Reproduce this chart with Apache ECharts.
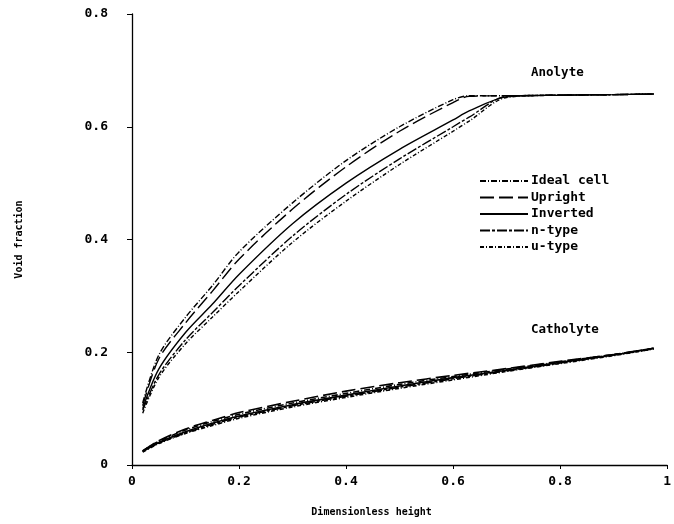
<!DOCTYPE html>
<html>
<head>
<meta charset="utf-8">
<script src="https://cdn.jsdelivr.net/npm/echarts@6/dist/echarts.min.js"></script>
<style>html,body{margin:0;padding:0;background:#fff}#c{width:674px;height:524px}</style>
</head>
<body>
<div id="c"></div>
<script>
// ---- data ----
const seriesNames = ['Ideal cell', 'Upright', 'Inverted', 'n-type', 'u-type'];
const xTicks = [0, 0.2, 0.4, 0.6, 0.8, 1];
const yTicks = [0, 0.2, 0.4, 0.6, 0.8];

// Anolyte
const anoX = [0.02, 0.05, 0.1, 0.15, 0.2, 0.3, 0.4, 0.5, 0.6, 0.63, 0.7, 0.8, 0.9, 0.975];
const anoIdeal    = [0.110, 0.195, 0.262, 0.318, 0.378, 0.465, 0.540, 0.600, 0.648, 0.655, 0.655, 0.656, 0.657, 0.658];
const anoUpright  = [0.105, 0.188, 0.252, 0.308, 0.365, 0.454, 0.529, 0.592, 0.643, 0.654, 0.655, 0.656, 0.657, 0.658];
const anoInverted = [0.100, 0.170, 0.235, 0.285, 0.338, 0.428, 0.500, 0.560, 0.612, 0.628, 0.653, 0.656, 0.657, 0.658];
const anoNtype    = [0.097, 0.160, 0.222, 0.270, 0.318, 0.406, 0.480, 0.543, 0.600, 0.617, 0.654, 0.656, 0.657, 0.658];
const anoUtype    = [0.092, 0.155, 0.215, 0.262, 0.308, 0.395, 0.468, 0.533, 0.592, 0.610, 0.652, 0.656, 0.657, 0.658];

// Catholyte
const catX = [0.02, 0.05, 0.1, 0.15, 0.2, 0.3, 0.4, 0.5, 0.6, 0.7, 0.8, 0.9, 0.975];
const catIdeal    = [0.025, 0.042, 0.062, 0.077, 0.090, 0.110, 0.127, 0.143, 0.157, 0.170, 0.183, 0.196, 0.207];
const catUpright  = [0.025, 0.043, 0.064, 0.079, 0.093, 0.113, 0.131, 0.146, 0.159, 0.171, 0.184, 0.196, 0.207];
const catInverted = [0.024, 0.040, 0.059, 0.074, 0.087, 0.107, 0.124, 0.140, 0.155, 0.168, 0.182, 0.195, 0.207];
const catNtype    = [0.024, 0.039, 0.057, 0.072, 0.085, 0.105, 0.122, 0.138, 0.153, 0.167, 0.181, 0.195, 0.206];
const catUtype    = [0.023, 0.038, 0.056, 0.070, 0.083, 0.103, 0.120, 0.136, 0.151, 0.166, 0.180, 0.194, 0.206];

// ---- build ----
const FONT = 'DejaVu Sans Mono';
const dashes = {
  'Ideal cell': [6, 2, 1, 2],
  'Upright': [14, 5],
  'Inverted': 'solid',
  'n-type': [10, 2, 3, 2],
  'u-type': [4, 2, 1, 2]
};
const anoData = [anoIdeal, anoUpright, anoInverted, anoNtype, anoUtype];
const catData = [catIdeal, catUpright, catInverted, catNtype, catUtype];
const zip = (xs, ys) => xs.map((x, i) => [x, ys[i]]);

const series = [];
seriesNames.forEach((n, i) => {
  series.push({
    name: n, type: 'line', symbol: 'none', showSymbol: false, smooth: 0.3,
    data: zip(anoX, anoData[i]),
    lineStyle: { color: '#000', width: 1.4, type: dashes[n] }
  });
});
seriesNames.forEach((n, i) => {
  series.push({
    name: n, type: 'line', symbol: 'none', showSymbol: false, smooth: 0.3,
    data: zip(catX, catData[i]),
    lineStyle: { color: '#000', width: 1.6, type: dashes[n] }
  });
});

const fmt = v => (v === 0 ? '0' : (v === 1 ? '1' : v.toFixed(1)));

const chart = echarts.init(document.getElementById('c'), null, { renderer: 'canvas' });
chart.setOption({
  animation: false,
  backgroundColor: '#fff',
  color: ['#000'],
  grid: { left: 132, right: 0, top: 14, bottom: 59, containLabel: false },
  legend: {
    data: seriesNames,
    orient: 'vertical',
    left: 479, top: 174,
    padding: 0,
    itemWidth: 48, itemHeight: 10, itemGap: 2.5,
    itemStyle: { opacity: 0 },
    textStyle: { fontFamily: FONT, fontWeight: 'bold', fontSize: 13, color: '#000', lineHeight: 14, padding: [0, 0, 0, -2] }
  },
  xAxis: {
    type: 'value', min: 0, max: 1, interval: 0.2,
    name: 'Dimensionless height', nameLocation: 'middle', nameGap: 42,
    nameTextStyle: { fontFamily: FONT, fontWeight: 'bold', fontSize: 10, color: '#000', padding: [0, 56, 0, 0] },
    axisLine: { lineStyle: { color: '#000', width: 1.3 } },
    axisTick: { show: true, inside: false, length: 4, lineStyle: { color: '#000' } },
    axisLabel: { fontFamily: FONT, fontWeight: 'bold', fontSize: 13, color: '#000', margin: 10, formatter: fmt },
    splitLine: { show: false }
  },
  yAxis: {
    type: 'value', min: 0, max: 0.8, interval: 0.2,
    name: 'Void fraction', nameLocation: 'middle', nameGap: 108, nameRotate: 90,
    nameTextStyle: { fontFamily: FONT, fontWeight: 'bold', fontSize: 10, color: '#000' },
    axisLine: { show: true, lineStyle: { color: '#000', width: 1.3 } },
    axisTick: { show: true, inside: false, length: 5, lineStyle: { color: '#000' } },
    axisLabel: { fontFamily: FONT, fontWeight: 'bold', fontSize: 13, color: '#000', margin: 24, formatter: fmt },
    splitLine: { show: false }
  },
  graphic: [
    { type: 'text', left: 531, top: 66, style: { text: 'Anolyte', fontFamily: FONT, fontWeight: 'bold', fontSize: 12.5, fill: '#000' } },
    { type: 'text', left: 531, top: 323, style: { text: 'Catholyte', fontFamily: FONT, fontWeight: 'bold', fontSize: 12.5, fill: '#000' } }
  ],
  series: series
});
</script>
</body>
</html>
